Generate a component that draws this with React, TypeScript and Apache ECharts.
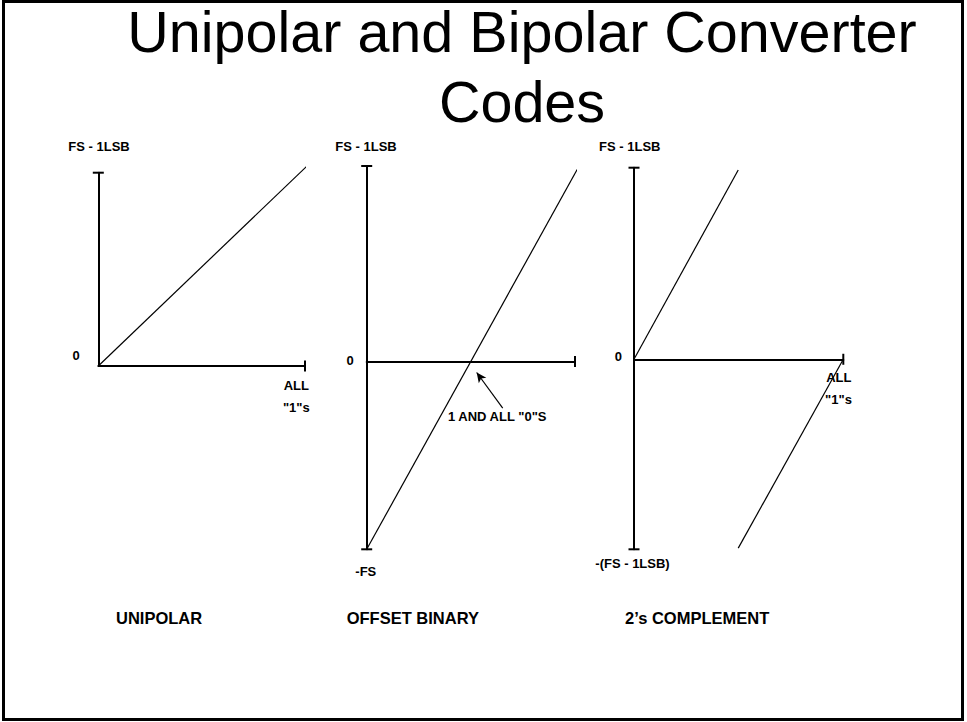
import React, { useEffect, useRef } from "react";
import * as echarts from "echarts";

// ---------- data ----------
const TITLE_LINES = ["Unipolar and Bipolar Converter", "Codes"];
const PANEL_NAMES = ["UNIPOLAR", "OFFSET BINARY", "2’s COMPLEMENT"];

// x: input code as fraction of ALL "1"s ; y: output as fraction of FS - 1LSB
const codeRange = [0, 1];
const unipolarRange = [0, 1];
const offsetRange = [-0.96, 1];
const twosRange = [-0.992, 1];

const unipolarCode = [0, 1.01];
const unipolarOut = [0, 1.035];

const offsetCode = [0, 1.011];
const offsetOut = [-0.96, 0.983];

const twosPosCode = [0, 0.498];
const twosPosOut = [0, 0.988];
const twosNegCode = [0.498, 1.0];
const twosNegOut = [-0.986, 0];

const arrowFrom = [0.653, -0.238];
const arrowTo = [0.528, -0.056];

const FONT = "'Liberation Sans', Arial, Helvetica, sans-serif";

const zip = (xs: number[], ys: number[]) => xs.map((x, i) => [x, ys[i]]);

export default function App() {
  const ref = useRef<HTMLDivElement>(null);

  useEffect(() => {
    if (!ref.current) return;
    const chart = echarts.init(ref.current, undefined, { renderer: "svg" });

    const axisLine = (symbol: string[]) => ({
      show: true,
      onZero: true,
      symbol,
      symbolSize: [11, 2],
      lineStyle: { color: "#000", width: 2 },
    });
    const xAx = (gridIndex: number) => ({
      type: "value",
      gridIndex,
      min: codeRange[0],
      max: codeRange[1],
      axisLine: axisLine(["none", "rect"]),
      axisTick: { show: false },
      axisLabel: { show: false },
      splitLine: { show: false },
    });
    const yAx = (gridIndex: number, range: number[], symbol: string[]) => ({
      type: "value",
      gridIndex,
      min: range[0],
      max: range[1],
      axisLine: axisLine(symbol),
      axisTick: { show: false },
      axisLabel: { show: false },
      splitLine: { show: false },
    });

    const lineSeries = (name: string, idx: number, data: number[][], extra: any = {}) => ({
      type: "line",
      name,
      xAxisIndex: idx,
      yAxisIndex: idx,
      data,
      symbol: "none",
      clip: false,
      lineStyle: { color: "#000", width: 1.2 },
      silent: true,
      ...extra,
    });

    const small = (text: string, x: number, y: number, align = "center") => ({
      type: "text",
      x,
      y,
      style: {
        text,
        fill: "#000",
        font: `bold 13px ${FONT}`,
        align,
        verticalAlign: "middle",
      },
    });
    const caption = (text: string, x: number, y: number) => ({
      type: "text",
      x,
      y,
      style: {
        text,
        fill: "#000",
        font: `bold 16.5px ${FONT}`,
        align: "left",
        verticalAlign: "middle",
      },
    });
    const titleText = (text: string, y: number) => ({
      type: "text",
      x: 522,
      y,
      style: {
        text,
        fill: "#000",
        font: `57.5px ${FONT}`,
        align: "center",
        verticalAlign: "middle",
      },
    });

    chart.setOption({
      animation: false,
      backgroundColor: "#fff",
      grid: [
        { left: 98.3, top: 172.7, width: 206.7, height: 193.3 },
        { left: 366.7, top: 166, width: 208.3, height: 383.3 },
        { left: 634, top: 167.7, width: 209.3, height: 381.6 },
      ],
      xAxis: [xAx(0), xAx(1), xAx(2)],
      yAxis: [
        yAx(0, unipolarRange, ["none", "rect"]),
        yAx(1, offsetRange, ["rect", "rect"]),
        yAx(2, twosRange, ["rect", "rect"]),
      ],
      series: [
        lineSeries("Unipolar", 0, zip(unipolarCode, unipolarOut)),
        lineSeries("Offset binary", 1, zip(offsetCode, offsetOut), {
          markLine: {
            silent: true,
            symbol: ["none", "arrow"],
            symbolSize: [7, 10],
            label: { show: false },
            lineStyle: { color: "#000", width: 1.2, type: "solid" },
            data: [[{ coord: arrowFrom }, { coord: arrowTo }]],
          },
        }),
        lineSeries("2's complement (positive)", 2, zip(twosPosCode, twosPosOut)),
        lineSeries("2's complement (negative)", 2, zip(twosNegCode, twosNegOut)),
      ],
      graphic: [
        {
          type: "rect",
          shape: { x: 3.5, y: 1.5, width: 959, height: 718 },
          style: { fill: "none", stroke: "#000", lineWidth: 3 },
          silent: true,
        },
        titleText(TITLE_LINES[0], 31.8),
        titleText(TITLE_LINES[1], 102),
        // unipolar
        small("FS - 1LSB", 99, 146),
        small("0", 76, 355.2),
        small("ALL", 296.3, 385),
        small('"1"s', 296.3, 407.5),
        // offset binary
        small("FS - 1LSB", 366, 146),
        small("0", 350, 360),
        small("-FS", 365.8, 571.7),
        small('1 AND ALL "0"S', 497.2, 416.7),
        // 2's complement
        small("FS - 1LSB", 629.8, 146),
        small("0", 618.3, 356.7),
        small("ALL", 838.8, 377),
        small('"1"s', 838.5, 399.5),
        small("-(FS - 1LSB)", 632.5, 563.3),
        // captions
        caption(PANEL_NAMES[0], 116, 617.5),
        caption(PANEL_NAMES[1], 346.7, 617.5),
        caption(PANEL_NAMES[2], 625, 617.5),
      ],
    });

    return () => chart.dispose();
  }, []);

  return (
    <div
      ref={ref}
      style={{ position: "fixed", left: 0, top: 0, width: 967, height: 722, background: "#fff" }}
    />
  );
}
